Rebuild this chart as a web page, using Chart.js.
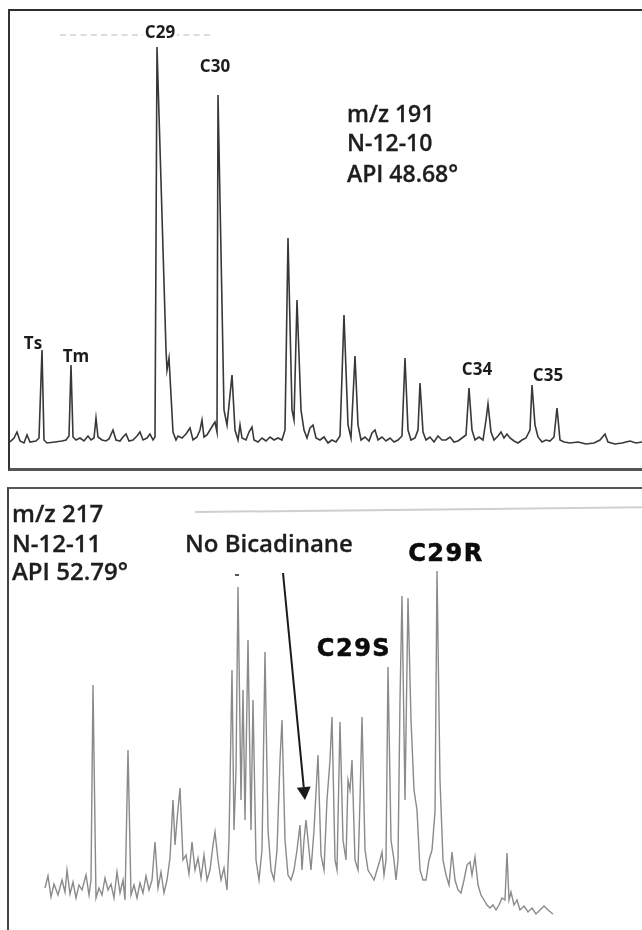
<!DOCTYPE html>
<html lang="en">
<head>
<meta charset="UTF-8">
<title>m/z 191 / m/z 217 chromatograms</title>
<script src="https://cdn.jsdelivr.net/npm/chart.js"></script>
<style>
  body {
    margin: 0;
    width: 642px;
    height: 930px;
    position: relative;
    overflow: hidden;
    background: #fff;
    font-family: 'Open Sans', sans-serif;
    color: #1e1e1e;
  }
  .panel { position: absolute; box-sizing: border-box; }
  #topPanel {
    left: 8px; top: 9px; width: 645px; height: 462px;
    border-top: 2px solid #2e2e2e; border-left: 2px solid #333; border-bottom: 3px solid #555;
  }
  #botPanel {
    left: 7px; top: 487px; width: 645px; height: 450px;
    border-top: 2px solid #555; border-left: 2px solid #444;
  }
  canvas { position: absolute; }
  #topChart { left: 10px; top: 11px; }
  #botChart { left: 9px; top: 489px; }
  .lbl { position: absolute; white-space: nowrap; line-height: 1; transform: translate(-50%, -50%); }
  .info { position: absolute; white-space: nowrap; line-height: 1; transform: translateY(-50%); font-weight: 600; }
  .pk { font-size: 17px; font-weight: 700; color: #1c1c1c; }
  .ster { font-family: 'DejaVu Sans', sans-serif; font-weight: 700; font-size: 24px; letter-spacing: 1.5px; color: #0c0c0c; -webkit-text-stroke: 0.6px #0c0c0c; }
  .t1 { font-size: 23px; color: #1e1e1e; -webkit-text-stroke: 0.3px #1e1e1e; }
  .t2 { font-size: 24px; color: #1e1e1e; -webkit-text-stroke: 0.3px #1e1e1e; }
  .faint { position: absolute; }
</style>
</head>
<body>

<div class="panel" id="topPanel"></div>
<div class="panel" id="botPanel"></div>

<!-- scan leftovers -->
<div class="faint" style="left:60px; top:34px; width:150px; border-top:2px dashed #dcdcdc;"></div>
<div class="faint" style="left:195px; top:511px; width:447px; height:2px; background:#cfcfcf; transform:rotate(-0.6deg); transform-origin:left center;"></div>
<div class="faint" style="left:235px; top:574px; width:4px; height:2px; background:#555;"></div>

<canvas id="topChart" width="632" height="457"></canvas>
<canvas id="botChart" width="633" height="441"></canvas>

<div class="lbl pk" style="left:160px; top:31px; background:#fff; padding:0 2px;">C29</div>
<div class="lbl pk" style="left:215px; top:65px;">C30</div>
<div class="lbl pk" style="left:33px; top:342px;">Ts</div>
<div class="lbl pk" style="left:76px; top:355px;">Tm</div>
<div class="lbl pk" style="left:477px; top:368px;">C34</div>
<div class="lbl pk" style="left:548px; top:374px;">C35</div>

<div class="info t1" style="left:347px; top:113px;">m/z 191</div>
<div class="info t1" style="left:347px; top:142px;">N-12-10</div>
<div class="info t1" style="left:347px; top:173px;">API 48.68°</div>

<div class="info t2" style="left:12px; top:513px;">m/z 217</div>
<div class="info t2" style="left:12px; top:543px;">N-12-11</div>
<div class="info t2" style="left:12px; top:571px;">API 52.79°</div>
<div class="info t2" style="left:185px; top:543px;">No Bicadinane</div>

<div class="lbl ster" style="left:446px; top:553px;">C29R</div>
<div class="lbl ster" style="left:354px; top:648px;">C29S</div>

<script>
// m/z 191 trace (terpanes), retention position and abundance
const rtTop = [10,14,17,20,24,27,30,36,39,42,44,47,55,62,66,69,71,73,76,80,84,88,91,94,96,98,102,106,109,113,116,120,123,126,129,133,137,140,143,147,150,153,155,157,166,167,169,173,176,178,182,186,190,193,197,200,202,204,207,210,213,215,217,218,224,227,232,235,238,240,242,246,249,252,254,258,262,266,270,274,278,282,285,288,292,294,297,301,304,307,310,313,316,320,324,328,332,336,340,344,348,351,355,358,361,365,369,372,375,378,382,386,390,394,398,402,405,408,411,415,418,420,423,426,430,434,438,442,446,450,454,458,462,466,469,472,475,479,483,486,488,491,494,498,501,504,507,510,514,518,522,526,530,532,535,538,542,546,550,554,557,560,564,570,578,586,594,600,605,608,615,622,630,636,642];
const abTop = [26,30,36,27,25,33,26,27,30,118,28,25,26,27,28,32,103,31,28,30,27,32,28,30,50,31,28,27,29,38,28,27,31,34,27,28,32,36,28,30,34,28,31,421,118,98,110,36,28,32,30,34,40,28,31,38,48,31,33,38,43,46,36,373,58,43,93,38,28,43,30,28,36,41,28,26,30,27,31,28,30,28,38,230,58,48,168,58,38,30,40,43,30,28,31,25,28,26,32,153,43,30,112,43,28,31,27,35,38,28,31,27,30,26,28,32,110,38,28,30,38,85,36,28,31,26,32,28,28,31,26,27,30,33,80,38,28,31,28,48,64,36,28,32,36,30,34,30,27,25,28,30,38,83,43,31,26,28,27,31,60,28,26,25,26,24,25,28,34,26,24,25,27,25,26];

// m/z 217 trace (steranes)
const rtBot = [45,48,51,54,58,62,65,67,70,73,76,79,82,86,89,91,93,96,99,102,105,108,111,114,117,120,123,125,128,131,134,137,140,143,146,149,152,155,158,161,164,167,170,173,175,177,180,183,186,189,192,195,198,201,204,207,210,213,215,218,221,224,227,229,232,234,236,238,241,243,245,248,251,253,256,259,262,265,268,271,274,277,280,282,285,288,291,294,297,300,302,304,306,309,311,314,318,321,324,327,330,332,335,337,340,343,346,348,350,352,355,358,360,362,365,368,371,374,377,380,382,384,386,388,391,394,396,398,400,402,405,408,411,414,417,420,423,426,429,432,435,437,440,443,446,449,452,455,458,461,464,467,470,472,475,478,481,484,487,490,493,496,499,502,505,507,509,511,514,517,520,524,528,532,536,540,544,548,553];
const abBot = [42,54,33,46,35,50,38,60,36,48,32,45,40,55,35,50,245,32,42,35,52,40,46,32,58,37,50,30,180,35,45,32,47,37,54,40,50,88,42,58,37,50,72,130,85,110,142,70,75,56,88,60,72,52,75,50,60,85,98,70,50,62,40,90,260,100,160,343,130,240,110,290,100,230,70,50,80,278,100,60,50,80,170,210,90,55,50,60,80,105,60,90,110,80,60,100,175,75,60,130,170,213,70,60,208,90,70,150,140,170,70,60,130,213,80,60,55,50,60,70,78,55,70,263,90,70,50,70,230,334,130,332,210,140,120,60,50,50,70,80,118,359,150,70,55,45,78,50,40,37,50,65,68,55,73,45,35,30,25,22,25,20,25,32,30,77,30,38,25,30,20,24,18,22,16,20,24,20,16];

// "No Bicadinane" arrow, in the same units as the m/z 217 trace
const arrowRt = [283, 305];
const arrowAb = [357, 130];

function makeTrace(id, rt, ab, xMin, xMax, yMax, color, lineWidth, plugins) {
  return new Chart(document.getElementById(id), {
    type: 'line',
    data: {
      datasets: [{
        data: rt.map((x, i) => ({ x: x, y: ab[i] })),
        borderColor: color,
        borderWidth: lineWidth,
        pointRadius: 0,
        tension: 0,
        fill: false
      }]
    },
    options: {
      responsive: false,
      animation: false,
      devicePixelRatio: 1,
      layout: { padding: 0 },
      plugins: { legend: { display: false }, tooltip: { enabled: false } },
      scales: {
        x: { type: 'linear', min: xMin, max: xMax, display: false },
        y: { min: 0, max: yMax, display: false }
      }
    },
    plugins: plugins || []
  });
}

const arrowPlugin = {
  id: 'arrow',
  afterDatasetsDraw(chart) {
    const ctx = chart.ctx;
    const xs = chart.scales.x, ys = chart.scales.y;
    const x0 = xs.getPixelForValue(arrowRt[0]), y0 = ys.getPixelForValue(arrowAb[0]);
    const x1 = xs.getPixelForValue(arrowRt[1]), y1 = ys.getPixelForValue(arrowAb[1]);
    const ang = Math.atan2(y1 - y0, x1 - x0);
    const head = 13, half = 7;
    const bx = x1 - head * Math.cos(ang), by = y1 - head * Math.sin(ang);
    ctx.save();
    ctx.strokeStyle = '#1a1a1a';
    ctx.fillStyle = '#1a1a1a';
    ctx.lineWidth = 2;
    ctx.beginPath();
    ctx.moveTo(x0, y0);
    ctx.lineTo(bx, by);
    ctx.stroke();
    ctx.beginPath();
    ctx.moveTo(x1, y1);
    ctx.lineTo(bx + half * Math.sin(ang), by - half * Math.cos(ang));
    ctx.lineTo(bx - half * Math.sin(ang), by + half * Math.cos(ang));
    ctx.closePath();
    ctx.fill();
    ctx.restore();
  }
};

makeTrace('topChart', rtTop, abTop, 10, 642, 457, '#383838', 1.6);
makeTrace('botChart', rtBot, abBot, 9, 642, 441, '#8a8a8a', 1.4, [arrowPlugin]);
</script>
</body>
</html>
